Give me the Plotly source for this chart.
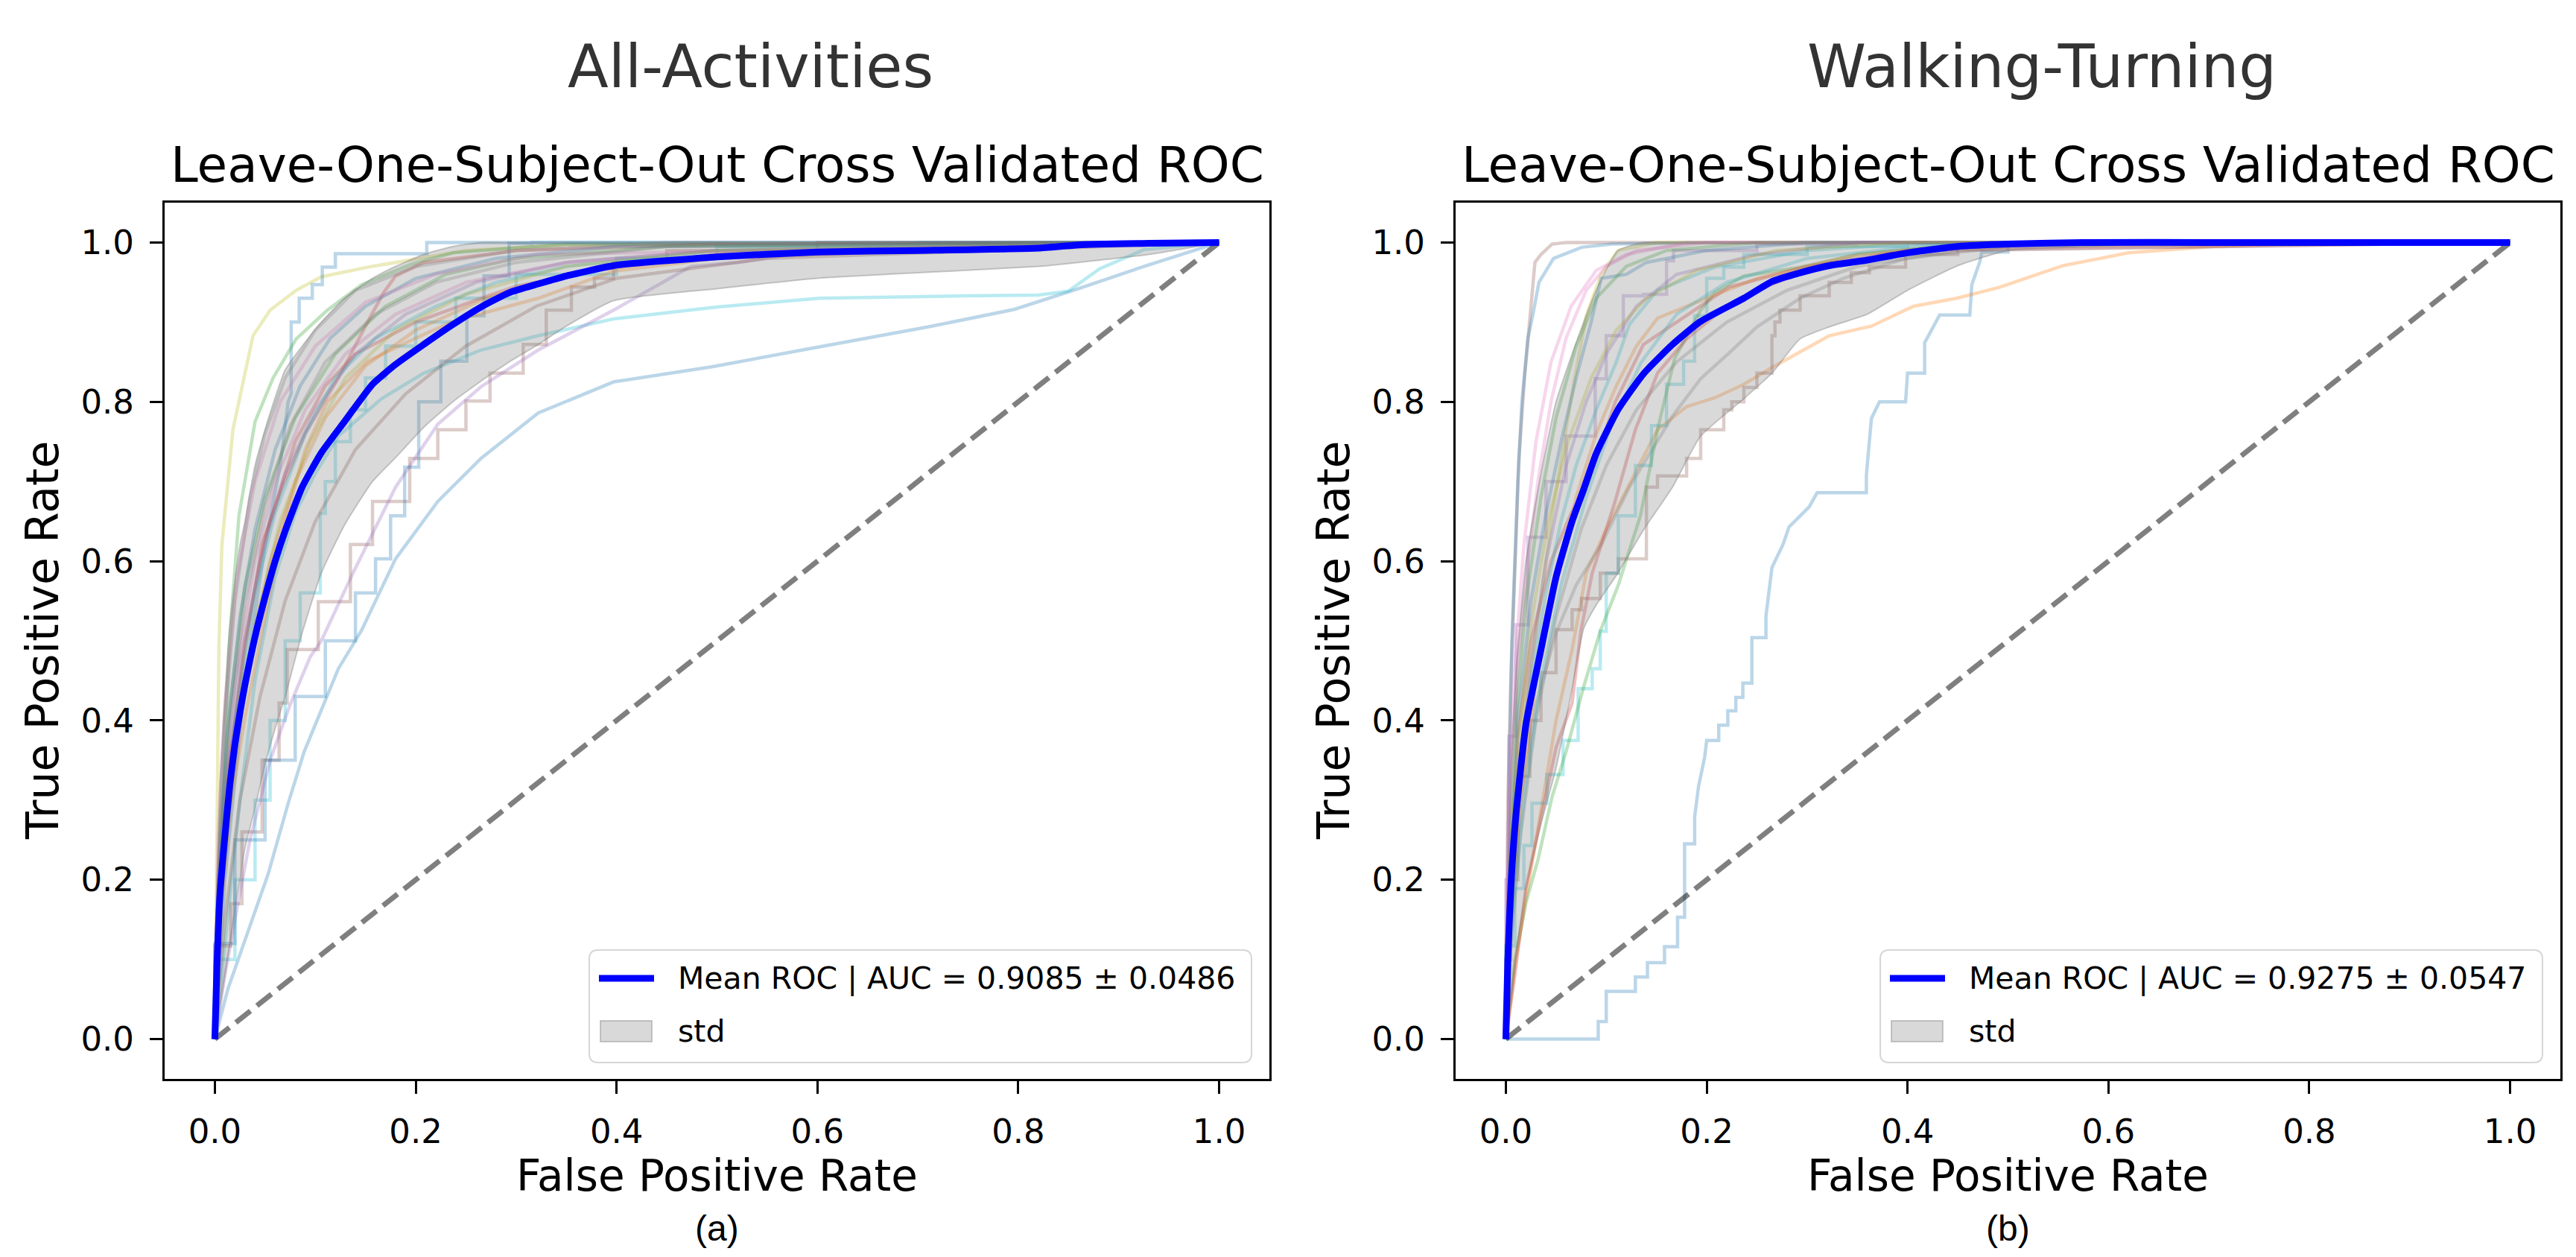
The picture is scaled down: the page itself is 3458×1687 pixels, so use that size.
import plotly.graph_objects as go

# ---------------- data ----------------
# (a) All-Activities : mean ROC and std band on a common FPR grid
aa_grid_fpr = [0, 0.002, 0.005, 0.01, 0.015, 0.02, 0.025, 0.03, 0.04, 0.05, 0.06, 0.07, 0.087, 0.106,
               0.129, 0.157, 0.18, 0.208, 0.237, 0.265, 0.293, 0.322, 0.35, 0.397, 0.5, 0.6, 0.7, 0.82,
               0.86, 0.93, 1.0]
aa_mean_tpr = [0, 0.09, 0.18, 0.255, 0.32, 0.37, 0.41, 0.445, 0.505, 0.555, 0.60, 0.638, 0.693, 0.736,
               0.775, 0.822, 0.847, 0.872, 0.897, 0.919, 0.937, 0.948, 0.958, 0.971, 0.982, 0.988, 0.990,
               0.993, 0.997, 0.999, 1.0]
aa_lower_tpr = [0, 0.015, 0.04, 0.08, 0.12, 0.165, 0.2, 0.24, 0.29, 0.345, 0.39, 0.43, 0.51, 0.585,
                0.645, 0.70, 0.73, 0.768, 0.80, 0.826, 0.85, 0.872, 0.895, 0.927, 0.942, 0.955, 0.962,
                0.970, 0.975, 0.985, 1.0]
aa_upper_tpr = [0, 0.165, 0.32, 0.43, 0.52, 0.575, 0.62, 0.65, 0.72, 0.765, 0.805, 0.84, 0.87, 0.90,
                0.93, 0.955, 0.97, 0.985, 0.995, 1.0, 1.0, 1.0, 1.0, 1.0, 1.0, 1.0, 1.0, 1.0,
                1.0, 1.0, 1.0]
aa_auc_label = "Mean ROC | AUC = 0.9085 \u00b1 0.0486"

# (a) per-subject folds
aa_f01_fpr = [0, 0.002, 0.004, 0.007, 0.018, 0.038, 0.055, 0.081, 0.106, 0.152, 0.203, 0.25, 0.35, 1.0]
aa_f01_tpr = [0, 0.30, 0.49, 0.62, 0.765, 0.883, 0.915, 0.94, 0.957, 0.969, 0.98, 0.99, 0.997, 1.0]
aa_f02_fpr = [0, 0.01, 0.03, 0.05, 0.065, 0.073, 0.076, 0.076, 0.084, 0.084, 0.097, 0.097, 0.107, 0.107,
              0.12, 0.12, 0.211, 0.211, 1.0]
aa_f02_tpr = [0, 0.2, 0.45, 0.62, 0.72, 0.80, 0.81, 0.90, 0.90, 0.93, 0.93, 0.947, 0.947, 0.969,
              0.969, 0.986, 0.986, 1.0, 1.0]
aa_f03_fpr = [0, 0.003, 0.008, 0.014, 0.024, 0.04, 0.058, 0.081, 0.112, 0.146, 0.194, 0.237, 0.35, 1.0]
aa_f03_tpr = [0, 0.2, 0.32, 0.49, 0.657, 0.775, 0.83, 0.879, 0.915, 0.947, 0.972, 0.987, 0.998, 1.0]
aa_f04_fpr = [0, 0.013, 0.033, 0.053, 0.073, 0.089, 0.123, 0.146, 0.18, 0.222, 0.265, 0.322, 0.397,
              0.495, 0.602, 0.71, 0.796, 0.86, 0.925, 1.0]
aa_f04_tpr = [0, 0.063, 0.135, 0.207, 0.296, 0.361, 0.465, 0.513, 0.603, 0.675, 0.729, 0.786, 0.825,
              0.844, 0.869, 0.894, 0.916, 0.942, 0.970, 1.0]
aa_f05_fpr = [0, 0.01, 0.025, 0.04, 0.06, 0.08, 0.1, 0.123, 0.166, 0.208, 0.265, 0.322, 0.397, 0.5,
              0.602, 0.75, 0.82, 0.85, 0.881, 0.925, 1.0]
aa_f05_tpr = [0, 0.12, 0.3, 0.45, 0.58, 0.66, 0.71, 0.757, 0.804, 0.836, 0.865, 0.883, 0.904, 0.919,
              0.930, 0.933, 0.934, 0.939, 0.967, 0.991, 1.0]
aa_f06_fpr = [0, 0.02, 0.04, 0.055, 0.07, 0.085, 0.09, 0.105, 0.105, 0.11, 0.12, 0.135, 0.15, 0.17,
              0.2, 0.24, 0.3, 0.4, 0.5, 0.7, 1.0]
aa_f06_tpr = [0, 0.1, 0.2, 0.3, 0.4, 0.5, 0.56, 0.56, 0.62, 0.66, 0.7, 0.75, 0.79, 0.83,
              0.87, 0.9, 0.93, 0.96, 0.98, 0.995, 1.0]
aa_f07_fpr = [0, 0.016, 0.027, 0.047, 0.064, 0.072, 0.103, 0.135, 0.157, 0.194, 0.222, 0.25, 0.274,
              0.307, 0.33, 0.355, 0.378, 0.397, 0.45, 0.6, 1.0]
aa_f07_tpr = [0, 0.117, 0.17, 0.26, 0.35, 0.422, 0.489, 0.549, 0.621, 0.675, 0.729, 0.765, 0.801,
              0.836, 0.872, 0.915, 0.944, 0.955, 0.975, 0.99, 1.0]
aa_f08_fpr = [0, 0.01, 0.02, 0.035, 0.055, 0.075, 0.095, 0.106, 0.1375, 0.18, 0.222, 0.265, 0.322,
              0.397, 0.474, 0.52, 0.6, 1.0]
aa_f08_tpr = [0, 0.08, 0.15, 0.25, 0.35, 0.42, 0.48, 0.5, 0.585, 0.693, 0.772, 0.819, 0.865,
              0.915, 0.97, 0.975, 0.99, 1.0]
aa_f09_fpr = [0, 0.02, 0.05, 0.08, 0.11, 0.14, 0.16, 0.175, 0.189, 0.203, 0.225, 0.251, 0.268, 0.293,
              0.316, 1.0]
aa_f09_tpr = [0, 0.12, 0.25, 0.35, 0.43, 0.5, 0.56, 0.603, 0.657, 0.718, 0.8, 0.851, 0.908, 0.958,
              0.999, 1.0]
aa_f10_fpr = [0, 0.005, 0.015, 0.03, 0.047, 0.067, 0.09, 0.123, 0.152, 0.168, 0.18, 0.208, 0.3, 0.5, 1.0]
aa_f10_tpr = [0, 0.2, 0.35, 0.489, 0.621, 0.693, 0.76, 0.83, 0.9, 0.937, 0.958, 0.975, 0.99, 0.998, 1.0]
aa_f11_fpr = [0, 0.01, 0.03, 0.05, 0.08, 0.11, 0.14, 0.2, 0.265, 0.3, 0.4, 0.5, 1.0]
aa_f11_tpr = [0, 0.3, 0.5, 0.63, 0.75, 0.82, 0.86, 0.9, 0.93, 0.945, 0.97, 0.985, 1.0]
aa_f12_fpr = [0, 0.005, 0.016, 0.03, 0.047, 0.07, 0.09, 0.112, 0.152, 0.2, 0.237, 0.322, 0.397, 0.5,
              0.7, 1.0]
aa_f12_tpr = [0, 0.15, 0.296, 0.404, 0.512, 0.65, 0.74, 0.80, 0.851, 0.88, 0.901, 0.93, 0.964, 0.98,
              0.99, 1.0]
aa_f13_fpr = [0, 0.003, 0.01, 0.02, 0.035, 0.05, 0.07, 0.1, 0.14, 0.2, 0.3, 0.45, 1.0]
aa_f13_tpr = [0, 0.2, 0.4, 0.55, 0.68, 0.76, 0.83, 0.89, 0.94, 0.97, 0.99, 1.0, 1.0]
aa_f14_fpr = [0, 0.002, 0.008, 0.02, 0.04, 0.06, 0.09, 0.13, 0.18, 0.25, 0.35, 0.5, 1.0]
aa_f14_tpr = [0, 0.15, 0.3, 0.45, 0.6, 0.7, 0.79, 0.86, 0.91, 0.95, 0.975, 0.99, 1.0]
aa_f15_fpr = [0, 0.005, 0.015, 0.03, 0.05, 0.08, 0.12, 0.17, 0.23, 0.3, 0.45, 1.0]
aa_f15_tpr = [0, 0.25, 0.42, 0.57, 0.68, 0.78, 0.86, 0.92, 0.96, 0.98, 0.995, 1.0]
aa_f16_fpr = [0, 0.004, 0.012, 0.025, 0.045, 0.07, 0.1, 0.14, 0.19, 0.26, 0.35, 0.5, 1.0]
aa_f16_tpr = [0, 0.18, 0.33, 0.47, 0.6, 0.71, 0.79, 0.86, 0.91, 0.95, 0.975, 0.99, 1.0]
aa_f17_fpr = [0, 0.006, 0.02, 0.04, 0.06, 0.09, 0.12, 0.16, 0.22, 0.28, 0.35, 0.5, 1.0]
aa_f17_tpr = [0, 0.2, 0.4, 0.56, 0.66, 0.76, 0.83, 0.88, 0.92, 0.95, 0.97, 0.99, 1.0]
aa_f18_fpr = [0, 0.004, 0.012, 0.025, 0.04, 0.06, 0.085, 0.115, 0.15, 0.2, 0.28, 0.4, 1.0]
aa_f18_tpr = [0, 0.2, 0.38, 0.53, 0.64, 0.74, 0.82, 0.88, 0.92, 0.955, 0.98, 0.995, 1.0]
aa_f19_fpr = [0, 0.006, 0.018, 0.035, 0.055, 0.08, 0.11, 0.15, 0.2, 0.27, 0.35, 0.5, 1.0]
aa_f19_tpr = [0, 0.18, 0.34, 0.48, 0.6, 0.7, 0.78, 0.845, 0.89, 0.93, 0.96, 0.985, 1.0]
aa_f20_fpr = [0, 0.01, 0.025, 0.045, 0.07, 0.1, 0.14, 0.19, 0.25, 0.32, 0.4, 0.55, 1.0]
aa_f20_tpr = [0, 0.15, 0.3, 0.43, 0.55, 0.65, 0.74, 0.81, 0.87, 0.92, 0.955, 0.98, 1.0]
aa_f21_fpr = [0, 0.003, 0.01, 0.022, 0.04, 0.065, 0.1, 0.15, 0.22, 0.32, 1.0]
aa_f21_tpr = [0, 0.25, 0.42, 0.58, 0.7, 0.8, 0.87, 0.925, 0.96, 0.985, 1.0]
aa_f22_fpr = [0, 0.008, 0.02, 0.04, 0.065, 0.095, 0.13, 0.18, 0.25, 0.35, 0.5, 1.0]
aa_f22_tpr = [0, 0.2, 0.36, 0.52, 0.65, 0.75, 0.83, 0.89, 0.935, 0.97, 0.99, 1.0]
aa_f23_fpr = [0, 0.005, 0.015, 0.03, 0.05, 0.075, 0.11, 0.16, 0.22, 0.3, 0.45, 1.0]
aa_f23_tpr = [0, 0.22, 0.4, 0.55, 0.67, 0.77, 0.85, 0.91, 0.95, 0.975, 0.995, 1.0]

# (b) Walking-Turning : mean ROC and std band
wt_grid_fpr = [0, 0.002, 0.005, 0.01, 0.02, 0.035, 0.05, 0.066, 0.0775, 0.09, 0.1116, 0.137, 0.166,
               0.194, 0.237, 0.265, 0.293, 0.322, 0.36, 0.4, 0.45, 0.5, 0.58, 0.7, 1.0]
wt_mean_tpr = [0, 0.10, 0.19, 0.28, 0.395, 0.489, 0.58, 0.65, 0.69, 0.735, 0.79, 0.835, 0.872,
               0.901, 0.93, 0.951, 0.962, 0.971, 0.978, 0.987, 0.995, 0.998, 1.0, 1.0, 1.0]
wt_lower_tpr = [0, 0.02, 0.05, 0.105, 0.189, 0.27, 0.34, 0.44, 0.515, 0.545, 0.585, 0.639, 0.693,
                0.757, 0.804, 0.836, 0.879, 0.894, 0.91, 0.94, 0.971, 0.99, 0.995, 1.0, 1.0]
wt_upper_tpr = [0, 0.18, 0.33, 0.455, 0.60, 0.71, 0.80, 0.86, 0.90, 0.94, 0.99, 1.0, 1.0,
                1.0, 1.0, 1.0, 1.0, 1.0, 1.0, 1.0, 1.0, 1.0, 1.0, 1.0, 1.0]
wt_auc_label = "Mean ROC | AUC = 0.9275 \u00b1 0.0547"

# (b) per-subject folds
wt_f01_fpr = [0, 0.092, 0.092, 0.1, 0.1, 0.129, 0.129, 0.141, 0.141, 0.158, 0.158, 0.171, 0.171, 0.178,
              0.178, 0.188, 0.188, 0.192, 0.198, 0.2, 0.212, 0.212, 0.221, 0.221, 0.229, 0.229, 0.236,
              0.236, 0.245, 0.245, 0.259, 0.259, 0.265, 0.276, 0.282, 0.302, 0.31, 0.359, 0.359, 0.364,
              0.372, 0.398, 0.4, 0.417, 0.417, 0.424, 0.432, 0.462, 0.464, 0.472, 0.474, 0.5, 0.5, 1.0]
wt_f01_tpr = [0, 0, 0.022, 0.022, 0.06, 0.06, 0.078, 0.078, 0.096, 0.096, 0.116, 0.116, 0.153, 0.153,
              0.245, 0.245, 0.279, 0.318, 0.354, 0.375, 0.375, 0.394, 0.394, 0.412, 0.412, 0.429, 0.429,
              0.447, 0.447, 0.504, 0.504, 0.531, 0.592, 0.621, 0.643, 0.668, 0.686, 0.686, 0.708, 0.779,
              0.8, 0.8, 0.836, 0.836, 0.874, 0.89, 0.909, 0.909, 0.947, 0.976, 0.988, 0.988, 1.0, 1.0]
wt_f02_fpr = [0, 0.002, 0.005, 0.009, 0.013, 0.019, 0.024, 0.029, 0.035, 0.046, 0.06, 1.0]
wt_f02_tpr = [0, 0.3, 0.45, 0.585, 0.73, 0.836, 0.91, 0.975, 0.985, 0.998, 1.0, 1.0]
wt_f03_fpr = [0, 0.003, 0.006, 0.012, 0.016, 0.022, 0.027, 0.033, 0.0475, 0.0755, 0.106, 0.2, 1.0]
wt_f03_tpr = [0, 0.3, 0.5, 0.7, 0.8, 0.88, 0.91, 0.95, 0.98, 0.994, 0.998, 1.0, 1.0]
wt_f04_fpr = [0, 0.01, 0.03, 0.05, 0.066, 0.08, 0.1, 0.123, 0.151, 0.18, 0.208, 0.237, 0.265, 0.322,
              0.364, 0.406, 0.449, 0.492, 0.555, 0.62, 0.705, 0.77, 0.8, 1.0]
wt_f04_tpr = [0, 0.1, 0.25, 0.4, 0.489, 0.585, 0.64, 0.697, 0.765, 0.794, 0.805, 0.822, 0.843, 0.883,
              0.895, 0.92, 0.93, 0.944, 0.971, 0.987, 0.995, 0.998, 1.0, 1.0]
wt_f05_fpr = [0, 0.005, 0.012, 0.024, 0.035, 0.05, 0.066, 0.0755, 0.094, 0.112, 0.14, 0.151, 0.18,
              0.194, 0.217, 0.225, 0.237, 0.25, 0.265, 0.268, 0.273, 0.293, 0.322, 0.344, 0.362, 0.398,
              0.45, 0.5, 0.6, 1.0]
wt_f05_tpr = [0, 0.1, 0.2, 0.33, 0.4, 0.46, 0.514, 0.539, 0.553, 0.585, 0.603, 0.693, 0.707,
              0.729, 0.765, 0.79, 0.8, 0.818, 0.836, 0.883, 0.9, 0.915, 0.933, 0.95, 0.962, 0.969,
              0.985, 0.995, 1.0, 1.0]
wt_f06_fpr = [0, 0.005, 0.015, 0.03, 0.05, 0.07, 0.095, 0.123, 0.166, 0.194, 0.222, 0.25, 0.293,
              0.336, 0.398, 0.5, 1.0]
wt_f06_tpr = [0, 0.15, 0.3, 0.42, 0.51, 0.57, 0.621, 0.693, 0.782, 0.829, 0.861, 0.894, 0.93,
              0.955, 0.98, 0.995, 1.0]
wt_f07_fpr = [0, 0.009, 0.018, 0.026, 0.041, 0.057, 0.072, 0.086, 0.094, 0.1, 0.112, 0.129, 0.145,
              0.16, 0.177, 0.188, 0.2, 0.217, 0.237, 0.3, 0.4, 1.0]
wt_f07_tpr = [0, 0.117, 0.189, 0.243, 0.296, 0.332, 0.375, 0.44, 0.465, 0.512, 0.585, 0.657, 0.72,
              0.77, 0.822, 0.851, 0.908, 0.955, 0.969, 0.985, 0.995, 1.0]
wt_f08_fpr = [0, 0.009, 0.02, 0.032, 0.046, 0.06, 0.077, 0.094, 0.112, 0.134, 0.151, 0.168, 0.194,
              0.208, 0.237, 0.293, 0.35, 0.45, 1.0]
wt_f08_tpr = [0, 0.099, 0.171, 0.225, 0.304, 0.361, 0.44, 0.512, 0.57, 0.657, 0.765, 0.854, 0.915,
              0.937, 0.958, 0.969, 0.985, 0.997, 1.0]
wt_f09_fpr = [0, 0.009, 0.02, 0.032, 0.05, 0.066, 0.0747, 0.086, 0.109, 0.129, 0.151, 0.18, 0.208,
              0.25, 0.3, 0.4, 0.5, 1.0]
wt_f09_tpr = [0, 0.081, 0.189, 0.261, 0.366, 0.422, 0.512, 0.585, 0.676, 0.765, 0.836, 0.879, 0.908,
              0.94, 0.965, 0.99, 0.998, 1.0]
wt_f10_fpr = [0, 0.004, 0.012, 0.025, 0.045, 0.065, 0.08, 0.109, 0.137, 0.18, 0.222, 0.3, 0.4, 1.0]
wt_f10_tpr = [0, 0.2, 0.38, 0.5, 0.6, 0.66, 0.693, 0.8, 0.872, 0.908, 0.944, 0.97, 0.99, 1.0]
wt_f11_fpr = [0, 0.003, 0.01, 0.022, 0.04, 0.06, 0.089, 0.1, 0.117, 0.137, 0.16, 0.167, 0.25, 0.35, 1.0]
wt_f11_tpr = [0, 0.2, 0.38, 0.52, 0.63, 0.7, 0.757, 0.829, 0.883, 0.933, 0.935, 0.977, 0.99, 0.998, 1.0]
wt_f12_fpr = [0, 0.003, 0.01, 0.02, 0.0345, 0.046, 0.06, 0.07, 0.08, 0.095, 0.1116, 0.15, 1.0]
wt_f12_tpr = [0, 0.15, 0.3, 0.43, 0.55, 0.657, 0.765, 0.84, 0.908, 0.96, 0.99, 1.0, 1.0]
wt_f13_fpr = [0, 0.002, 0.006, 0.012, 0.022, 0.032, 0.045, 0.06, 0.08, 0.1, 0.13, 0.2, 1.0]
wt_f13_tpr = [0, 0.2, 0.35, 0.48, 0.6, 0.7, 0.8, 0.88, 0.94, 0.97, 0.99, 1.0, 1.0]
wt_f14_fpr = [0, 0.004, 0.012, 0.025, 0.04, 0.055, 0.07, 0.09, 0.11, 0.123, 0.151, 0.208, 0.3, 0.4, 1.0]
wt_f14_tpr = [0, 0.15, 0.3, 0.45, 0.56, 0.65, 0.72, 0.79, 0.85, 0.897, 0.94, 0.969, 0.99, 0.998, 1.0]
wt_f15_fpr = [0, 0.004, 0.012, 0.025, 0.04, 0.055, 0.07, 0.085, 0.095, 0.12, 0.14, 0.2, 0.3, 1.0]
wt_f15_tpr = [0, 0.2, 0.4, 0.55, 0.66, 0.75, 0.83, 0.9, 0.955, 0.96, 0.975, 0.99, 1.0, 1.0]
wt_f16_fpr = [0, 0.005, 0.015, 0.03, 0.05, 0.07, 0.09, 0.11, 0.13, 0.151, 0.18, 0.25, 0.35, 0.45, 1.0]
wt_f16_tpr = [0, 0.15, 0.3, 0.45, 0.58, 0.68, 0.76, 0.82, 0.87, 0.905, 0.92, 0.955, 0.985, 0.997, 1.0]
wt_f17_fpr = [0, 0.003, 0.01, 0.02, 0.035, 0.05, 0.07, 0.09, 0.12, 0.16, 0.25, 1.0]
wt_f17_tpr = [0, 0.2, 0.4, 0.55, 0.68, 0.78, 0.87, 0.93, 0.97, 0.99, 1.0, 1.0]
wt_f18_fpr = [0, 0.004, 0.012, 0.025, 0.04, 0.06, 0.08, 0.1, 0.13, 0.17, 0.25, 0.35, 1.0]
wt_f18_tpr = [0, 0.15, 0.32, 0.47, 0.6, 0.72, 0.8, 0.86, 0.92, 0.96, 0.985, 1.0, 1.0]
wt_f19_fpr = [0, 0.005, 0.015, 0.03, 0.05, 0.075, 0.1, 0.13, 0.17, 0.22, 0.28, 0.35, 0.45, 1.0]
wt_f19_tpr = [0, 0.12, 0.26, 0.4, 0.53, 0.64, 0.72, 0.79, 0.85, 0.9, 0.94, 0.97, 0.99, 1.0]
wt_f20_fpr = [0, 0.002, 0.008, 0.018, 0.03, 0.045, 0.065, 0.09, 0.12, 0.18, 1.0]
wt_f20_tpr = [0, 0.25, 0.45, 0.62, 0.75, 0.85, 0.92, 0.965, 0.985, 1.0, 1.0]
wt_f21_fpr = [0, 0.004, 0.012, 0.025, 0.042, 0.062, 0.085, 0.11, 0.14, 0.19, 0.27, 0.4, 1.0]
wt_f21_tpr = [0, 0.2, 0.37, 0.52, 0.65, 0.75, 0.83, 0.89, 0.93, 0.965, 0.99, 1.0, 1.0]
wt_f22_fpr = [0, 0.006, 0.018, 0.035, 0.055, 0.08, 0.105, 0.135, 0.17, 0.22, 0.3, 0.42, 1.0]
wt_f22_tpr = [0, 0.15, 0.3, 0.45, 0.57, 0.68, 0.77, 0.85, 0.91, 0.95, 0.98, 0.997, 1.0]

# ---------------- styling ----------------
TAB = {"blue": "31,119,180", "orange": "255,127,14", "green": "44,160,44", "red": "214,39,40",
       "purple": "148,103,189", "brown": "140,86,75", "pink": "227,119,194", "gray": "127,127,127",
       "olive": "188,189,34", "cyan": "23,190,207"}

aa_folds = [
    (aa_f01_fpr, aa_f01_tpr, "olive", "linear"), (aa_f02_fpr, aa_f02_tpr, "blue", "linear"),
    (aa_f03_fpr, aa_f03_tpr, "green", "linear"), (aa_f04_fpr, aa_f04_tpr, "blue", "linear"),
    (aa_f05_fpr, aa_f05_tpr, "cyan", "linear"), (aa_f06_fpr, aa_f06_tpr, "cyan", "vh"),
    (aa_f07_fpr, aa_f07_tpr, "brown", "vh"), (aa_f08_fpr, aa_f08_tpr, "purple", "linear"),
    (aa_f09_fpr, aa_f09_tpr, "blue", "vh"), (aa_f10_fpr, aa_f10_tpr, "red", "linear"),
    (aa_f11_fpr, aa_f11_tpr, "red", "linear"), (aa_f12_fpr, aa_f12_tpr, "orange", "linear"),
    (aa_f13_fpr, aa_f13_tpr, "gray", "linear"), (aa_f14_fpr, aa_f14_tpr, "pink", "linear"),
    (aa_f15_fpr, aa_f15_tpr, "green", "linear"), (aa_f16_fpr, aa_f16_tpr, "purple", "linear"),
    (aa_f17_fpr, aa_f17_tpr, "cyan", "linear"), (aa_f18_fpr, aa_f18_tpr, "blue", "linear"),
    (aa_f19_fpr, aa_f19_tpr, "orange", "linear"), (aa_f20_fpr, aa_f20_tpr, "brown", "linear"),
    (aa_f21_fpr, aa_f21_tpr, "pink", "linear"), (aa_f22_fpr, aa_f22_tpr, "olive", "linear"),
    (aa_f23_fpr, aa_f23_tpr, "gray", "linear"),
]
wt_folds = [
    (wt_f01_fpr, wt_f01_tpr, "blue", "linear"), (wt_f02_fpr, wt_f02_tpr, "brown", "linear"),
    (wt_f03_fpr, wt_f03_tpr, "blue", "linear"), (wt_f04_fpr, wt_f04_tpr, "orange", "linear"),
    (wt_f05_fpr, wt_f05_tpr, "brown", "vh"), (wt_f06_fpr, wt_f06_tpr, "gray", "linear"),
    (wt_f07_fpr, wt_f07_tpr, "cyan", "vh"), (wt_f08_fpr, wt_f08_tpr, "green", "linear"),
    (wt_f09_fpr, wt_f09_tpr, "red", "linear"), (wt_f10_fpr, wt_f10_tpr, "red", "linear"),
    (wt_f11_fpr, wt_f11_tpr, "purple", "vh"), (wt_f12_fpr, wt_f12_tpr, "olive", "linear"),
    (wt_f13_fpr, wt_f13_tpr, "pink", "linear"), (wt_f14_fpr, wt_f14_tpr, "cyan", "linear"),
    (wt_f15_fpr, wt_f15_tpr, "blue", "linear"), (wt_f16_fpr, wt_f16_tpr, "orange", "linear"),
    (wt_f17_fpr, wt_f17_tpr, "green", "linear"), (wt_f18_fpr, wt_f18_tpr, "purple", "linear"),
    (wt_f19_fpr, wt_f19_tpr, "gray", "linear"), (wt_f20_fpr, wt_f20_tpr, "pink", "linear"),
    (wt_f21_fpr, wt_f21_tpr, "olive", "linear"), (wt_f22_fpr, wt_f22_tpr, "cyan", "linear"),
]

FONT = "DejaVu Sans"
W, H = 3458, 1687
BAND_FILL = "rgba(128,128,128,0.3)"
BAND_EDGE = "rgba(128,128,128,0.4)"
fig = go.Figure()


def add_panel(folds, grid, mean, lower, upper, xa, ya):
    for fpr, tpr, col, shape in folds:
        fig.add_trace(go.Scatter(x=fpr, y=tpr, mode="lines", xaxis=xa, yaxis=ya,
                                 line=dict(color="rgba(%s,0.3)" % TAB[col], width=4.5, shape=shape),
                                 showlegend=False, hoverinfo="skip"))
    # chance line
    fig.add_trace(go.Scatter(x=[0, 1], y=[0, 1], mode="lines", xaxis=xa, yaxis=ya,
                             line=dict(color="rgba(0,0,0,0.5)", width=7, dash="25px,11px"),
                             showlegend=False, hoverinfo="skip"))
    # std band
    fig.add_trace(go.Scatter(x=grid, y=lower, mode="lines", xaxis=xa, yaxis=ya,
                             line=dict(color=BAND_EDGE, width=2, shape="spline", smoothing=0.5),
                             showlegend=False, hoverinfo="skip"))
    fig.add_trace(go.Scatter(x=grid, y=upper, mode="lines", xaxis=xa, yaxis=ya, fill="tonexty",
                             fillcolor=BAND_FILL,
                             line=dict(color=BAND_EDGE, width=2, shape="spline", smoothing=0.5),
                             name="std", showlegend=False))
    fig.add_trace(go.Scatter(x=grid, y=mean, mode="lines", xaxis=xa, yaxis=ya,
                             line=dict(color="#0000ff", width=9, shape="spline", smoothing=0.5),
                             name="Mean ROC", showlegend=False))


add_panel(aa_folds, aa_grid_fpr, aa_mean_tpr, aa_lower_tpr, aa_upper_tpr, "x", "y")
add_panel(wt_folds, wt_grid_fpr, wt_mean_tpr, wt_lower_tpr, wt_upper_tpr, "x2", "y2")

axis_style = dict(range=[-0.05, 1.05], showgrid=False, zeroline=False, showline=True, mirror=True,
                  linecolor="black", linewidth=3, ticks="outside", ticklen=17, tickwidth=3,
                  tickcolor="black", tickvals=[0, 0.2, 0.4, 0.6, 0.8, 1.0], tickformat=".1f",
                  tickfont=dict(family=FONT, size=45, color="black"), ticklabelstandoff=12)

y_dom = [1 - 1440 / H, 1 - 264 / H]
left_dom = [213 / W, 1696 / W]
right_dom = [1946 / W, 3429 / W]
PANEL_SHIFT = 1733  # px between the two panels


def px(x):
    return x / W


def py(y):
    return 1 - y / H


shapes = []
annotations = []


def add_legend(dx, label):
    # rounded legend frame, matplotlib style
    x0, x1, y0, y1 = px(783 + dx), px(1672 + dx), py(1418), py(1267)
    rx, ry = px(12), 12 / H
    path = ("M %f,%f L %f,%f Q %f,%f %f,%f L %f,%f Q %f,%f %f,%f L %f,%f Q %f,%f %f,%f L %f,%f Q %f,%f %f,%f Z"
            % (x0 + rx, y0, x1 - rx, y0, x1, y0, x1, y0 + ry, x1, y1 - ry, x1, y1, x1 - rx, y1,
               x0 + rx, y1, x0, y1, x0, y1 - ry, x0, y0 + ry, x0, y0, x0 + rx, y0))
    shapes.append(dict(type="path", path=path, xref="paper", yref="paper", layer="above",
                       fillcolor="rgba(255,255,255,0.8)", line=dict(color="#d6d6d6", width=2)))
    shapes.append(dict(type="line", xref="paper", yref="paper", layer="above",
                       x0=px(796 + dx), x1=px(870 + dx), y0=py(1305), y1=py(1305),
                       line=dict(color="#0000ff", width=9)))
    shapes.append(dict(type="rect", xref="paper", yref="paper", layer="above",
                       x0=px(798 + dx), x1=px(867 + dx), y0=py(1390), y1=py(1362),
                       fillcolor=BAND_FILL, line=dict(color=BAND_EDGE, width=2)))
    for txt, yy in [(label, 1305), ("std", 1376)]:
        annotations.append(dict(text=txt, x=px(900 + dx), y=py(yy), xref="paper", yref="paper",
                                showarrow=False, xanchor="left", yanchor="middle",
                                font=dict(family=FONT, size=41, color="black")))


add_legend(0, aa_auc_label)
add_legend(PANEL_SHIFT, wt_auc_label)

for cx, title, tag in [((left_dom[0] + left_dom[1]) / 2, "All-Activities", "(a)"),
                       ((right_dom[0] + right_dom[1]) / 2, "Walking-Turning", "(b)")]:
    annotations += [
        dict(text=title, x=cx + px(45), y=py(81), xref="paper", yref="paper", showarrow=False,
             xanchor="center", yanchor="middle", font=dict(family=FONT, size=80, color="#333333")),
        dict(text="Leave-One-Subject-Out Cross Validated ROC", x=cx, y=py(213), xref="paper",
             yref="paper", showarrow=False, xanchor="center", yanchor="middle",
             font=dict(family=FONT, size=66, color="black")),
        dict(text="False Positive Rate", x=cx, y=py(1570), xref="paper", yref="paper",
             showarrow=False, xanchor="center", yanchor="middle",
             font=dict(family=FONT, size=58, color="black")),
        dict(text=tag, x=cx, y=py(1640), xref="paper", yref="paper", showarrow=False,
             xanchor="center", yanchor="middle",
             font=dict(family="Liberation Sans", size=48, color="black")),
    ]
for lx in [px(49), px(49 + PANEL_SHIFT)]:
    annotations.append(dict(text="True Positive Rate", x=lx, y=py(852), xref="paper", yref="paper",
                            showarrow=False, textangle=-90, xanchor="center", yanchor="middle",
                            font=dict(family=FONT, size=60, color="black")))

fig.update_layout(
    width=W, height=H, autosize=False,
    margin=dict(l=0, r=0, t=0, b=0),
    paper_bgcolor="white", plot_bgcolor="white",
    showlegend=False,
    xaxis=dict(domain=left_dom, anchor="y", **axis_style),
    yaxis=dict(domain=y_dom, anchor="x", **axis_style),
    xaxis2=dict(domain=right_dom, anchor="y2", **axis_style),
    yaxis2=dict(domain=y_dom, anchor="x2", **axis_style),
    shapes=shapes,
    annotations=annotations,
)

fig.write_html("out.html")
